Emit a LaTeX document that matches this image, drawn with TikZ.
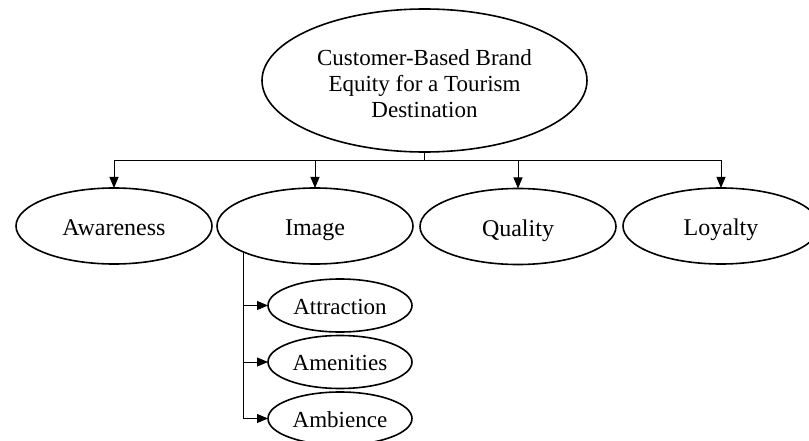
\documentclass[tikz,border=0pt]{standalone}
\usepackage{fontspec}
\setmainfont{Liberation Serif}
\usetikzlibrary{shapes.geometric,arrows.meta}
\tikzset{
  oval/.style={draw, ellipse, line width=1.6pt, inner sep=0pt, outer sep=0pt, align=center},
  big/.style={oval, minimum width=325pt, minimum height=143pt, font=\fontsize{23}{26}\selectfont},
  mid/.style={oval, minimum width=196pt, minimum height=76pt, font=\fontsize{24}{28}\selectfont,
    text height=19.5pt, text depth=0pt},
  small/.style={oval, minimum width=144pt, minimum height=53pt, font=\fontsize{23}{26}\selectfont,
    text height=17pt, text depth=0pt},
  conn/.style={line width=0.9pt},
  arr/.style={conn, -{Triangle[length=11pt,width=9pt]}}
}
\begin{document}
\begin{tikzpicture}[x=1pt,y=-1pt]
\useasboundingbox (0,0) rectangle (809,441);
\node[big] (top) at (424.5,80.5) {\rule{0pt}{22pt}Customer-Based Brand\\Equity for a Tourism\\Destination};
\node[mid] (aw) at (114,226) {Awareness};
\node[mid] (img) at (315,226) {Image};
\node[mid] (qual) at (518,226.5) {Quality};
\node[mid] (loy) at (721,226) {Loyalty};
\node[small] (attr) at (340,305.5) {Attraction};
\node[small] (amen) at (340,362) {Amenities};
\node[small] (amb) at (340,418.5) {Ambience};
\draw[conn] (top.south) -- ++(0,8) coordinate (bus);
\draw[arr] (bus) -| (aw.north);
\draw[arr] (bus) -| (img.north);
\draw[arr] (bus) -| (qual.north);
\draw[arr] (bus) -| (loy.north);
\coordinate (imgout) at (img.200);
\draw[arr] (imgout) |- (amb.west);
\draw[arr] (imgout |- attr.west) -- (attr.west);
\draw[arr] (imgout |- amen.west) -- (amen.west);
\end{tikzpicture}
\end{document}
